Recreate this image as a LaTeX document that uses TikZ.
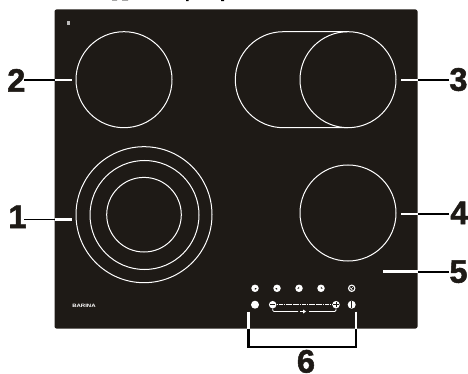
\documentclass[tikz,border=0pt]{standalone}
\usepackage{fontspec}
\setmainfont{Liberation Sans}
\newfontfamily\numfont[FakeBold=1.6]{Liberation Sans Bold}
\definecolor{hob}{HTML}{1E1A16}
\tikzset{
  x=1pt,y=-1pt,
  zone/.style={draw=white,line width=1pt},
  lead/.style={line width=1.6pt,draw=black},
  leadw/.style={line width=2.8pt,draw=white},
  num/.style={font=\fontsize{32.5}{33}\numfont,inner sep=0pt,text=hob,anchor=base},
  btn/.style={circle,fill=white,inner sep=0pt,minimum size=7.5pt},
  bracketline/.style={line width=2.8pt,draw=black},
  mark line/.style={hob,line width=.8pt},
}
\begin{document}
\begin{tikzpicture}
\useasboundingbox (0,0) rectangle (468,374);
\fill[hob,rounded corners=2pt] (54.5,9.5) rectangle (417.5,328.5);
% remains of the clipped line above the hob
\fill[black!35] (112,0) rectangle (117,.8) (122,0) rectangle (128,.8);
\fill[black] (186,0) rectangle (188.5,1.2) (221,0) rectangle (224,1.2);
% zones
\draw[zone] (124,79.7) circle (48);
\draw[zone] (144,214.7) circle (68);
\draw[zone] (144.5,215) circle (54.5);
\draw[zone] (144,214.7) circle (37.3);
\draw[zone] (348,31.7) -- (283.3,31.7) arc (-90:-270:48) -- (348,127.7);
\draw[zone] (348,79.7) circle (48);
\draw[zone] (348,213) circle (48);
% labels
\node[num] (n2) at (16.3,91.7) {2};
\node[num] (n1) at (17.5,228) {1};
\node[num] (n3) at (458.5,90.7) {3};
\node[num] (n4) at (459.3,224) {4};
\node[num] (n5) at (458.5,282.7) {5};
\node[num] (n6) at (306,372.6) {6};
% leaders
\coordinate (e2) at (72,80);
\coordinate (e1) at (72,219.3);
\coordinate (e3) at (400.7,80);
\coordinate (e4) at (400.7,214);
\coordinate (e5) at (383,271.7);
\draw[lead] (24,80) -- (54.5,80);
\draw[leadw] (54.5,80) -- (e2);
\draw[lead] (24,219.3) -- (54.5,219.3);
\draw[leadw] (54.5,219.3) -- (e1);
\draw[lead] (449,80) -- (417.5,80);
\draw[leadw] (417.5,80) -- (e3);
\draw[lead] (449,214) -- (417.5,214);
\draw[leadw] (417.5,214) -- (e4);
\draw[lead] (449,271.7) -- (417.5,271.7);
\draw[leadw] (417.5,271.7) -- (e5);
% bracket
\draw[leadw] (248.3,311.7) -- (248.3,328.5);
\draw[leadw] (356,311.7) -- (356,328.5);
\draw[bracketline] (248.3,328.5) -- (248.3,347) -- (356,347) -- (356,328.5);
% controls
\foreach \n/\x in {a/255,b/277,c/299,d/321,e/351.7}
  \node[btn] (t\n) at (\x,288.3) {};
\node[btn,minimum size=8pt] (s1) at (255,304.7) {};
\node[btn,minimum size=7.5pt] (s2) at (272.7,304.7) {};
\node[btn,minimum size=7.5pt] (s3) at (336,304.7) {};
\node[btn,minimum size=8pt] (s4) at (351.7,304.7) {};
% dial marks
\fill[hob] (ta.center) ++(-.2,-.2) -- ++(1.9,0) arc (0:90:1.9) -- cycle;
\fill[hob] (tb.center) ++(.2,-.2) -- ++(0,1.9) arc (90:180:1.9) -- cycle;
\fill[hob] (tc.center) ++(.2,.2) -- ++(-1.9,0) arc (180:270:1.9) -- cycle;
\fill[hob] (td.center) ++(-.2,.2) -- ++(0,-1.9) arc (270:360:1.9) -- cycle;
\draw[mark line] (te.center) circle (2);
\draw[mark line,line width=.6pt] (te.center) -- ++(0,-1.6) (te.center) -- ++(1.4,0);
% minus, plus, power
\draw[mark line] (270,304.7) -- (275.4,304.7);
\draw[mark line] (333.3,304.7) -- (338.7,304.7) (336,302) -- (336,307.4);
\draw[mark line] (351.7,301) -- (351.7,308.4);
% slider
\draw[white,line width=1.5pt,dash pattern=on 1.8pt off .5pt] (s2) -- (s3);
\draw[white,line width=.8pt,rounded corners=1.2pt] (272.7,308.5) -- (272.7,311.5) -- (298,311.5);
\draw[white,line width=.8pt,rounded corners=1.2pt] (336,308.5) -- (336,311.5) -- (309,311.5);
\fill[white] (300,310.6) rectangle (303,312.4);
\fill[white] (303,309.5) -- (306,311.5) -- (303,313.5) -- cycle;
% logo
\node[font=\fontsize{6}{6}\selectfont\bfseries,text=white,inner sep=0pt,yscale=.8] (logo) at (84,306) {BARINA};
\fill[white!70!hob] (67.3,21.2) rectangle (69.5,24.6);
\end{tikzpicture}
\end{document}
